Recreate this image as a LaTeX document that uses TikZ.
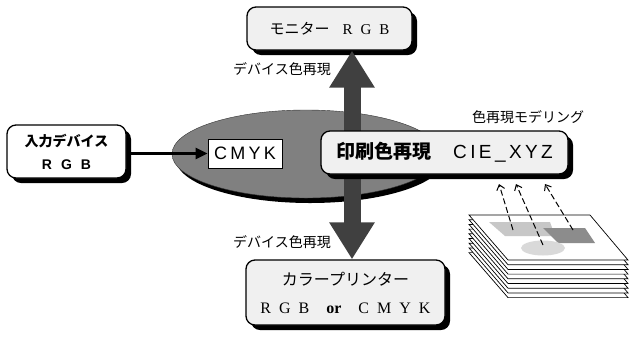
\documentclass[tikz,border=0pt]{standalone}
\usepackage[svgnames]{xcolor}
\usepackage{fontspec}
\usepackage{tikz}
\usetikzlibrary{arrows.meta,shapes.geometric,shadows}
\setmainfont{Liberation Serif}
\newfontfamily\jpfont{Noto Sans CJK JP}
\newfontfamily\arialsp[LetterSpace=18]{Liberation Sans}
\newfontfamily\arialfont{Liberation Sans}

\begin{document}
\begin{tikzpicture}[x=1pt,y=-1pt,
    box/.style={draw, line width=1.3pt, rounded corners=9pt, fill=black!6, inner sep=0pt,
        drop shadow={shadow xshift=5pt, shadow yshift=-5pt, fill=black, opacity=1}},
    fatarrow/.style={line width=17pt, color=black!75, -{Triangle[length=37pt,width=43pt]}},
    readarrow/.style={line width=1pt, dash pattern=on 6pt off 3pt, -{Straight Barb[length=5pt,width=8pt]}},
    label/.style={font=\fontsize{14}{14}\selectfont\jpfont, inner sep=0pt}]

    \useasboundingbox (0,0) rectangle (629,341);

    %Boxes
    \node[box, minimum width=165pt, minimum height=43pt] (mon) at (329.5,28.5)
        {\fontsize{15}{16}\selectfont\jpfont モニター\hspace{13pt}\rmfamily R\hspace{8pt}G\hspace{8pt}B}; %Monitor
    \node[box, fill=white, minimum width=119pt, minimum height=53pt, align=center,
        font=\fontsize{14}{23}\selectfont] (inp) at (66.5,151.5)
        {\jpfont\bfseries 入力デバイス\\ \arialfont\bfseries R\hspace{9pt}G\hspace{9pt}B}; %Input
    \node[box, minimum width=199pt, minimum height=65pt, align=center,
        font=\fontsize{16}{28}\selectfont] (prn) at (345.5,292.5)
        {\jpfont カラープリンター\\ R\hspace{8pt}G\hspace{8pt}B\hspace{17pt}\textbf{or}\hspace{17pt}C\hspace{8pt}M\hspace{8pt}Y\hspace{8pt}K}; %Printer

    %Gamut ellipse
    \node[ellipse, draw=black!80, fill=Gray, minimum width=268pt, minimum height=88pt, inner sep=0pt,
        drop shadow={shadow xshift=4pt, shadow yshift=-5pt, fill=black, opacity=1}] (ell) at (306,154) {};
    \node[draw, line width=0.8pt, fill=white, minimum width=74pt, minimum height=29pt, inner sep=0pt] (cmyk) at (245,153.5)
        {\fontsize{18}{18}\selectfont\arialsp CMYK\hspace{-3pt}}; %Text
    \draw[line width=2.8pt, -{Triangle[length=12pt,width=11pt]}] (inp.east |- cmyk.west) -- (cmyk.west); %Input arrow

    %Device arrows
    \coordinate (axis) at (352,153);
    \draw[fatarrow] (axis) -- (axis |- mon.south); %Up
    \draw[fatarrow] (axis) -- (axis |- prn.north); %Down
    \node[label] (devup) at (282,69) {デバイス色再現};
    \node[label] (devdn) at (282,242) {デバイス色再現};

    %Print gamut box
    \node[box, minimum width=247pt, minimum height=43pt] (pr) at (444.5,152.5)
        {\fontsize{19}{19}\selectfont\jpfont\bfseries 印刷色再現\hspace{22pt}\arialsp\mdseries CIE\_XYZ\hspace{-3pt}};
    \node[label] (model) at (528,117) {色再現モデリング};

    %Paper stack
    \foreach \i in {8,...,0}
        \draw[fill=white, line width=0.7pt] (469,215+4.7*\i) -- (590,215+4.7*\i) -- (628,260+4.7*\i) -- (508,260+4.7*\i) -- cycle; %Sheet
    \fill[color=black!22] (489,222) -- (550,222) -- (555,236) -- (505,236) -- cycle; %Light patch
    \fill[color=black!45] (543,228) -- (585,228) -- (595,243) -- (558,243) -- cycle; %Dark patch
    \fill[color=black!15] (543,248) ellipse [x radius=22, y radius=7.5]; %Round patch

    %Measurement arrows
    \coordinate (m1) at (513,230);
    \coordinate (m2) at (543,245);
    \coordinate (m3) at (573,230);
    \coordinate (t1) at (499,184);
    \coordinate (t2) at (516,184);
    \coordinate (t3) at (545,184);
    \draw[readarrow] (m1) -- (t1);
    \draw[readarrow] (m2) -- (t2);
    \draw[readarrow] (m3) -- (t3);

\end{tikzpicture}
\end{document}
